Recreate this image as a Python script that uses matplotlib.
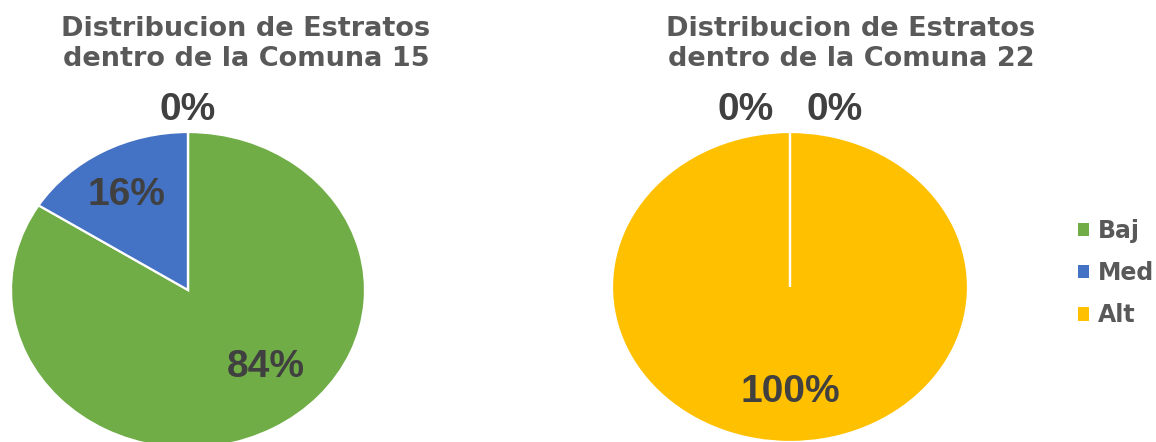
import matplotlib
matplotlib.use("Agg")
import matplotlib.pyplot as plt
from matplotlib import font_manager
from matplotlib.patches import Patch

# Strata shares per commune (percent)
categories = ["Baj", "Med", "Alt"]
comuna15 = [84, 16, 0]
comuna22 = [0, 0, 100]
titles = ["Distribucion de Estratos\ndentro de la Comuna 15",
          "Distribucion de Estratos\ndentro de la Comuna 22"]
colors = ["#70AD47", "#4472C4", "#FFC000"]

W, H = 1156, 442
fig = plt.figure(figsize=(W / 100, H / 100), dpi=100, facecolor="white")


def bold_sans():
    """Regular-width Liberation Sans Bold (not the Narrow cut)."""
    for path in font_manager.findSystemFonts():
        if path.endswith("LiberationSans-Bold.ttf"):
            return font_manager.FontProperties(fname=path, size=28)
    return font_manager.FontProperties(family="DejaVu Sans", weight="bold", size=24)


label_prop = bold_sans()
label_font = dict(fontproperties=label_prop, color="#404040",
                  ha="center", va="center")
title_font = dict(family="DejaVu Sans", fontweight="bold", fontsize=19.5,
                  color="#595959", ha="center", va="center", linespacing=1.2)


def px_axes(cx, cy, rx, ry):
    """Axes whose [-1, 1] box spans an ellipse centred at pixel (cx, cy)."""
    left = (cx - rx) / W
    bottom = (H - (cy + ry)) / H
    return fig.add_axes([left, bottom, 2 * rx / W, 2 * ry / H])


def draw_pie(ax, values, label_xy):
    wedges, _ = ax.pie(values, colors=colors, startangle=90, counterclock=False,
                       wedgeprops=dict(edgecolor="white", linewidth=1.6))
    for w, v in zip(wedges, values):
        if v == 0:
            w.set_zorder(3)
    ax.set_aspect("auto")
    ax.set_xlim(-1, 1)
    ax.set_ylim(-1, 1)
    for v, (x, y) in zip(values, label_xy):
        ax.text(x, y, f"{v}%", clip_on=False, zorder=5, **label_font)


ax1 = px_axes(188, 290, 177, 158)
draw_pie(ax1, comuna15, [(0.44, -0.49), (-0.35, 0.60), (0.0, 1.14)])

ax2 = px_axes(790, 287, 178, 155)
draw_pie(ax2, comuna22, [(-0.25, 1.14), (0.25, 1.14), (0.0, -0.68)])

fig.text(246 / W, 1 - 44 / H, titles[0], **title_font)
fig.text(851 / W, 1 - 44 / H, titles[1], **title_font)

handles = [Patch(facecolor=c, edgecolor="none") for c in colors]
fig.legend(handles, categories, loc="center left",
           bbox_to_anchor=(1078 / W, 1 - 273 / H), frameon=False,
           prop=dict(family="DejaVu Sans", weight="bold", size=17),
           labelcolor="#595959", handlelength=0.48, handleheight=0.48,
           handletextpad=0.35, labelspacing=0.78, borderpad=0, borderaxespad=0)

fig.savefig("out.png", dpi=100, facecolor="white")
